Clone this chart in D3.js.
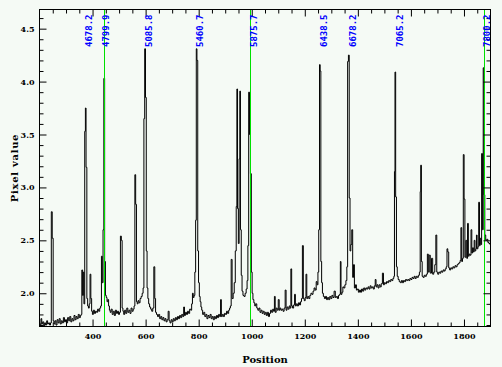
<!DOCTYPE html>
<html><head><meta charset="utf-8">
<script src="https://cdn.jsdelivr.net/npm/d3@7/dist/d3.min.js"></script>
<style>html,body{margin:0;padding:0;background:#f5faf5;}svg{display:block;}</style>
</head><body>
<svg id="chart" width="502" height="367"></svg>
<script>
const specPos = [200,204,207,210,214,218,221,225,229,232,236,240,243,246,250,253,256,260,264,268,272,276,280,284,288,292,296,300,304,308,312,316,320,324,328,332,336,340,344,348,352,356,358,361,364,366,369,372,374,377,380,383,386,389,392,395,398,401,405,409,413,417,421,425,429,432,435,438,441,444,447,450,453,456,459,462,465,468,472,476,480,484,488,492,496,500,503,507,510,513,516,519,523,527,531,535,539,543,547,551,555,558,561,564,567,570,573,577,581,585,589,592,595,598,601,604,607,610,613,617,621,625,629,633,636,639,643,647,651,655,659,663,667,671,675,679,683,687,690,694,698,702,706,710,714,718,722,726,730,734,738,742,745,748,752,756,760,764,768,772,775,778,781,784,787,790,792,795,798,801,804,807,810,813,817,821,825,829,833,837,841,845,849,853,857,861,865,869,873,877,881,884,887,891,895,899,903,907,911,915,918,921,924,928,932,936,940,943,945,948,951,954,956,959,962,965,969,973,977,981,984,987,990,993,997,1000,1003,1006,1010,1013,1017,1021,1025,1029,1033,1037,1041,1045,1049,1053,1057,1061,1065,1069,1073,1077,1081,1084,1087,1090,1094,1098,1102,1105,1108,1112,1116,1120,1124,1128,1131,1135,1139,1143,1146,1149,1152,1156,1160,1163,1166,1170,1174,1178,1182,1186,1189,1193,1196,1200,1203,1206,1209,1213,1217,1221,1225,1229,1233,1237,1241,1245,1248,1251,1254,1257,1259,1262,1265,1268,1272,1276,1280,1284,1288,1292,1296,1300,1304,1308,1313,1317,1321,1325,1329,1333,1335,1338,1342,1345,1349,1353,1357,1360,1363,1366,1369,1372,1375,1379,1382,1385,1389,1393,1396,1400,1404,1408,1412,1416,1420,1424,1428,1432,1436,1440,1444,1448,1452,1456,1460,1464,1467,1470,1474,1478,1482,1486,1490,1495,1498,1502,1506,1510,1514,1518,1522,1526,1530,1534,1537,1539,1541,1544,1547,1550,1554,1558,1562,1566,1570,1574,1578,1582,1586,1590,1594,1598,1602,1606,1610,1614,1618,1622,1626,1630,1634,1636,1638,1641,1644,1648,1652,1656,1660,1664,1667,1671,1675,1680,1684,1688,1692,1696,1699,1703,1707,1711,1715,1719,1723,1727,1731,1735,1737,1741,1744,1748,1752,1756,1760,1764,1768,1772,1776,1780,1784,1787,1790,1793,1796,1799,1802,1805,1809,1812,1815,1818,1821,1825,1828,1831,1834,1837,1840,1843,1846,1848,1851,1854,1857,1860,1862,1865,1868,1871,1874,1877,1880,1884,1888,1892,1896,1900];
const specVal = [1.72,1.70,1.76,1.71,1.73,1.69,1.72,1.70,1.74,1.71,1.72,1.70,1.72,2.77,2.52,1.74,1.71,1.74,1.70,1.75,1.72,1.76,1.71,1.74,1.72,1.77,1.73,1.75,1.72,1.77,1.74,1.78,1.73,1.76,1.74,1.79,1.75,1.78,1.76,1.80,1.77,1.79,1.80,2.22,1.98,2.20,1.90,3.53,3.75,3.19,1.95,1.88,1.86,1.90,2.18,1.95,1.83,1.80,1.84,1.81,1.83,1.82,1.85,1.83,1.86,1.88,2.35,2.10,2.60,4.03,2.30,1.98,1.96,1.92,1.94,1.88,1.84,1.82,1.85,1.80,1.83,1.79,1.84,1.81,1.83,1.80,1.82,2.54,2.50,1.86,1.83,1.80,1.84,1.81,1.86,1.82,1.84,1.81,1.86,1.83,1.85,1.88,3.12,2.84,1.92,1.90,1.93,1.91,1.95,1.97,2.00,2.05,3.65,4.31,3.85,2.40,2.05,1.95,1.90,1.87,1.85,1.83,1.86,2.25,1.95,1.82,1.80,1.78,1.80,1.76,1.78,1.75,1.77,1.74,1.76,1.73,1.75,1.83,1.74,1.72,1.75,1.73,1.76,1.74,1.77,1.75,1.78,1.76,1.79,1.77,1.80,1.78,1.87,1.79,1.82,1.80,1.83,1.81,1.85,1.84,1.90,2.00,1.96,1.98,2.20,2.69,4.31,4.20,2.40,2.10,1.97,1.92,1.87,1.84,1.80,1.82,1.78,1.80,1.76,1.79,1.77,1.80,1.76,1.78,1.75,1.78,1.76,1.79,1.77,1.80,1.78,1.94,1.78,1.80,1.78,1.81,1.80,1.83,1.81,1.84,1.86,1.88,2.32,1.95,2.00,2.10,2.40,2.82,3.93,2.80,2.47,3.27,3.91,2.60,2.17,2.02,1.98,1.97,2.00,2.04,2.12,2.45,3.90,3.50,3.13,2.20,2.00,1.94,1.91,1.88,1.90,1.86,1.84,1.86,1.82,1.84,1.81,1.83,1.80,1.82,1.79,1.82,1.78,1.81,1.84,1.82,1.85,1.83,1.97,1.82,1.86,1.84,1.94,1.84,1.86,1.84,1.85,1.83,1.86,2.03,1.84,1.87,1.85,1.88,1.86,2.23,1.88,1.86,1.89,1.99,1.88,1.90,1.88,1.91,1.89,1.92,1.95,2.45,1.95,1.93,1.96,2.18,1.95,1.97,1.95,1.98,2.00,1.99,2.02,2.05,2.03,2.11,2.08,2.20,2.60,4.16,4.10,2.30,2.10,2.00,1.97,1.95,1.97,1.94,1.96,1.94,1.97,1.95,1.98,1.96,2.02,1.96,1.97,1.95,1.98,1.99,2.30,1.99,2.01,2.06,2.05,2.08,2.12,2.25,4.19,4.25,2.90,2.40,2.46,2.60,2.15,2.27,2.05,2.08,2.03,2.04,2.01,2.03,2.01,2.04,2.02,2.05,2.03,2.05,2.04,2.06,2.04,2.07,2.05,2.06,2.04,2.07,2.13,2.06,2.08,2.05,2.08,2.06,2.09,2.19,2.08,2.10,2.09,2.11,2.10,2.12,2.11,2.13,2.12,2.14,2.16,3.15,4.09,2.91,2.25,2.16,2.13,2.11,2.10,2.12,2.10,2.12,2.11,2.13,2.12,2.13,2.12,2.14,2.13,2.15,2.14,2.16,2.14,2.16,2.15,2.17,2.20,2.96,3.21,2.30,2.16,2.15,2.17,2.16,2.18,2.37,2.20,2.36,2.19,2.33,2.18,2.20,2.27,2.55,2.20,2.18,2.20,2.19,2.21,2.20,2.22,2.21,2.23,2.25,2.42,2.39,2.24,2.22,2.24,2.23,2.25,2.24,2.26,2.25,2.27,2.28,2.29,2.31,2.62,2.30,2.33,3.31,2.89,2.34,2.50,2.33,2.66,2.35,2.37,2.36,2.60,2.38,2.43,2.39,2.50,2.40,2.42,2.55,2.42,2.44,2.86,2.45,2.52,2.46,3.32,2.60,4.13,2.93,2.55,2.50,2.51,2.48,2.47,2.46];
const lineLabels = ["4678.2","4799.9","5085.8","5460.7","5875.7","6438.5","6678.2","7065.2","7800.2"];
const labelPos = [374.5,441,600,794,999,1260,1371,1547,1877];
const markerPos = [442,994.6,1873.7];
const xMajor = [400,600,800,1000,1200,1400,1600,1800];
const yMajor = [2.0,2.5,3.0,3.5,4.0,4.5];
const xDomain = [200,1900];
const yDomain = [1.686,4.681];

const svg = d3.select("#chart");
const L=39.5,R=490.5,T=9.5,B=326.5;
const x = d3.scaleLinear().domain(xDomain).range([L,R]);
const y = d3.scaleLinear().domain(yDomain).range([B,T]);
const serif = "'DejaVu Serif', serif";

svg.append("rect").attr("width",502).attr("height",367).attr("fill","#f5faf5");

// spectrum
const data = specPos.map((p,i)=>[p,specVal[i]]);
svg.append("path").datum(data)
  .attr("d", d3.line().x(d=>x(d[0])).y(d=>y(d[1])).curve(d3.curveStep))
  .attr("fill","none").attr("stroke","#000").attr("stroke-width",1);

// marker lines
svg.selectAll("line.mk").data(markerPos).join("line")
  .attr("x1",d=>Math.round(x(d))+0.5).attr("x2",d=>Math.round(x(d))+0.5)
  .attr("y1",T).attr("y2",B).attr("stroke","#00e000").attr("stroke-width",1);

// axes (inward ticks)
const xMinor = d3.range(200,1901,50).filter(v=>!xMajor.includes(v) && v>200 && v<1900);
const yMinor = d3.range(17,47).map(v=>v/10).filter(v=>!yMajor.some(m=>Math.abs(m-v)<1e-6));
function ax(gen, pos, ticks, size, fmt){
  const g = svg.append("g").attr("transform",pos).call(gen.tickValues(ticks).tickSize(size).tickSizeOuter(0).tickFormat(fmt));
  g.select(".domain").remove();
  g.selectAll("line").attr("stroke","#000");
  return g;
}
const none = ()=>"";
ax(d3.axisBottom(x),`translate(0,${B})`,xMinor,-4,none);
ax(d3.axisTop(x),`translate(0,${T})`,xMinor,-4,none);
ax(d3.axisTop(x),`translate(0,${T})`,xMajor,-7,none);
ax(d3.axisLeft(y),`translate(${L},0)`,yMinor,-4,none);
ax(d3.axisRight(y),`translate(${R},0)`,yMinor,-4,none);
ax(d3.axisRight(y),`translate(${R},0)`,yMajor,-7,none);
const gb = ax(d3.axisBottom(x).tickPadding(7),`translate(0,${B})`,xMajor,-7,d3.format("d"));
gb.selectAll("text").attr("font-family",serif).attr("font-size","8px").attr("font-weight","bold").attr("fill","#000");
const gl = ax(d3.axisLeft(y).tickPadding(5),`translate(${L},0)`,yMajor,-7,d3.format(".1f"));
gl.selectAll("text").attr("font-family",serif).attr("font-size","8px").attr("font-weight","bold").attr("fill","#000");

// frame
svg.append("rect").attr("x",L).attr("y",T).attr("width",R-L).attr("height",B-T)
  .attr("fill","none").attr("stroke","#000").attr("stroke-width",1);

// line labels
svg.selectAll("text.lab").data(lineLabels).join("text")
  .attr("transform",(d,i)=>`translate(${x(labelPos[i])+6},14.5) rotate(-90)`)
  .attr("text-anchor","end").attr("font-family","'DejaVu Sans Mono', monospace")
  .attr("font-size","9px").attr("font-weight","bold").attr("fill","#0000ff").text(d=>d);

// axis titles
svg.append("text").attr("x",(L+R)/2).attr("y",362.5).attr("text-anchor","middle")
  .attr("font-family",serif).attr("font-size","10px").attr("font-weight","bold").attr("fill","#000").text("Position");
svg.append("text").attr("transform",`translate(17.7,${(T+B)/2}) rotate(-90)`).attr("text-anchor","middle")
  .attr("font-family",serif).attr("font-size","10px").attr("font-weight","bold").attr("letter-spacing","0.7px").attr("fill","#000").text("Pixel value");
</script>
</body></html>
